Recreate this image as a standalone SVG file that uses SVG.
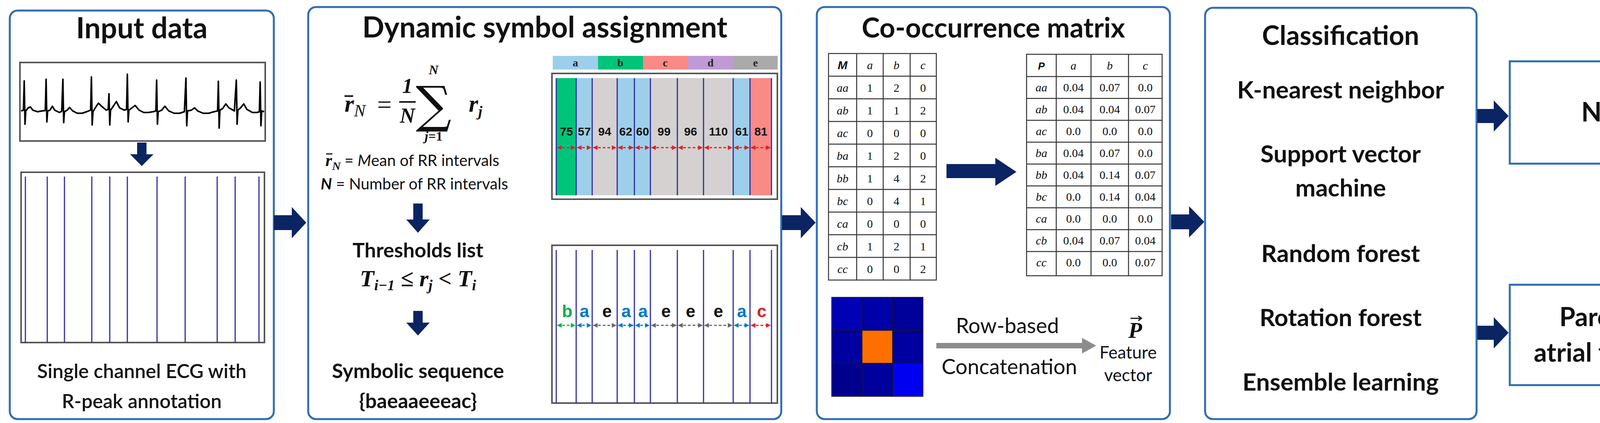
<svg xmlns="http://www.w3.org/2000/svg" width="4460" height="1083" viewBox="0 0 4460 1083">
<style>
.panel{fill:#fff;stroke:#2E6DB4;stroke-width:5}
.t{font-family:Lato,"Open Sans",sans-serif;font-weight:bold;fill:#111}
.s{font-family:Lato,"Open Sans",sans-serif;fill:#111}
.m{font-family:"Liberation Serif",serif;font-weight:bold;font-style:italic;fill:#111}
.cell{font-family:"Liberation Serif",serif;font-size:30px;fill:#111;text-anchor:middle}
.ci{font-style:italic}
.nav{fill:#0B2463}
.box{fill:#fff;stroke:#555;stroke-width:4}
.rl{stroke:#3030A0;stroke-width:3}
.tb{fill:none;stroke:#333;stroke-width:2.5}
.num{font-family:"Liberation Sans",sans-serif;font-weight:bold;font-size:30px;text-anchor:middle;fill:#111}
.lg{font-family:"Liberation Serif",serif;font-weight:bold;font-size:28px;text-anchor:middle;fill:#222}
.sq{font-family:"Liberation Sans",sans-serif;font-weight:bold;font-size:44px;text-anchor:middle}
</style>
<defs>
<marker id="ar" viewBox="0 0 10 10" refX="9" refY="5" markerWidth="4" markerHeight="4" orient="auto-start-reverse"><path d="M0,0L10,5L0,10z" fill="#E02020"/></marker>
<marker id="ag" viewBox="0 0 10 10" refX="9" refY="5" markerWidth="4" markerHeight="4" orient="auto-start-reverse"><path d="M0,0L10,5L0,10z" fill="#00B050"/></marker>
<marker id="ab" viewBox="0 0 10 10" refX="9" refY="5" markerWidth="4" markerHeight="4" orient="auto-start-reverse"><path d="M0,0L10,5L0,10z" fill="#0078C8"/></marker>
<marker id="ak" viewBox="0 0 10 10" refX="9" refY="5" markerWidth="4" markerHeight="4" orient="auto-start-reverse"><path d="M0,0L10,5L0,10z" fill="#666"/></marker>
</defs>

<g id="input-data">
<rect class="panel" x="25" y="27" width="676" height="1046" rx="20"/>
<text class="t" x="363" y="98" font-size="74" text-anchor="middle">Input data</text>
<rect class="box" x="51" y="160" width="628" height="201"/>
<path d="M54,284 L60,282 L62,207 L64,318 L66,284 L72,276 L78,274 L84,282 L96,286 L108,284 L116,283 L118,203 L120,312 L122,284 L128,282 L134,272 L140,282 L152,288 L158,285 L161,203 L163,314 L165,286 L172,282 L178,275 L186,284 L198,290 L210,290 L222,286 L232,282 L234,197 L236,320 L238,286 L244,276 L252,264 L260,272 L272,282 L277,280 L279,240 L281,320 L283,282 L290,272 L298,260 L306,276 L318,282 L324,280 L326,190 L328,312 L330,282 L338,276 L346,270 L356,282 L368,288 L380,288 L392,286 L399,284 L401,205 L403,318 L405,286 L414,282 L422,272 L432,284 L446,290 L460,290 L472,286 L476,200 L478,322 L480,284 L490,282 L498,276 L506,284 L520,290 L534,290 L548,286 L557,284 L559,208 L561,328 L563,282 L570,278 L578,266 L586,276 L600,284 L605,205 L607,318 L609,282 L616,276 L624,266 L632,280 L646,288 L658,288 L664,286 L666,210 L668,322 L670,284 L676,286" fill="none" stroke="#000" stroke-width="4" stroke-linejoin="round"/>
<rect class="box" x="54" y="441" width="623" height="436"/>
<g class="rl">
<line x1="65" y1="452" x2="65" y2="877"/><line x1="121" y1="452" x2="121" y2="877"/><line x1="165" y1="452" x2="165" y2="877"/><line x1="235" y1="452" x2="235" y2="877"/><line x1="281" y1="452" x2="281" y2="877"/><line x1="326" y1="452" x2="326" y2="877"/><line x1="402" y1="452" x2="402" y2="877"/><line x1="474" y1="452" x2="474" y2="877"/><line x1="556" y1="452" x2="556" y2="877"/><line x1="602" y1="452" x2="602" y2="877"/><line x1="663" y1="452" x2="663" y2="877"/>
</g>
<text class="s" x="363" y="968" font-size="50" font-weight="600" text-anchor="middle">Single channel ECG with</text>
<text class="s" x="363" y="1045" font-size="50" font-weight="600" text-anchor="middle">R-peak annotation</text>
</g>

<g id="symbol-assignment">
<rect class="panel" x="789" y="18" width="1211" height="1055" rx="20"/>
<text class="t" x="1395" y="96" font-size="74" text-anchor="middle">Dynamic symbol assignment</text>
<text class="m" x="882" y="286" font-size="62">r<tspan font-size="44" dy="12" font-weight="normal">N</tspan></text>
<line x1="882" y1="246" x2="904" y2="246" stroke="#111" stroke-width="4"/>
<text x="984" y="290" font-family="Liberation Serif,serif" font-size="66" text-anchor="middle" fill="#111">=</text>
<text class="m" x="1043" y="238" font-size="54" text-anchor="middle" font-style="normal">1</text>
<line x1="1022" y1="261" x2="1064" y2="261" stroke="#111" stroke-width="4"/>
<text class="m" x="1043" y="314" font-size="54" text-anchor="middle">N</text>
<text x="1110" y="312" font-family="DejaVu Serif,serif" font-size="128" text-anchor="middle" fill="#111">∑</text>
<text class="m" x="1110" y="190" font-size="34" text-anchor="middle">N</text>
<text class="m" x="1110" y="360" font-size="34" text-anchor="middle">j<tspan font-style="normal">=1</tspan></text>
<text class="m" x="1200" y="286" font-size="62">r<tspan font-size="38" dy="12">j</tspan></text>
<text x="833" y="425" font-size="40" class="s"><tspan class="m" font-size="44">r</tspan><tspan class="m" font-size="30" dy="10" font-weight="normal">N</tspan><tspan dy="-10"> = </tspan><tspan font-style="italic">M</tspan>ean of RR intervals</text>
<line x1="835" y1="394" x2="851" y2="394" stroke="#111" stroke-width="3"/>
<text x="821" y="485" font-size="40" class="s"><tspan font-style="italic" font-weight="bold">N</tspan> = Number of RR intervals</text>
<polygon class="nav" points="1058,521 1082,521 1082,562 1100,562 1070,596 1040,562 1058,562"/>
<text class="t" x="1070" y="659" font-size="52" text-anchor="middle">Thresholds list</text>
<text class="m" x="1070" y="733" font-size="60" text-anchor="middle">T<tspan font-size="38" dy="10">i−1</tspan><tspan dy="-10"> ≤ r</tspan><tspan font-size="38" dy="10">j</tspan><tspan dy="-10"> &lt; T</tspan><tspan font-size="38" dy="10">i</tspan></text>
<polygon class="nav" points="1058,796 1082,796 1082,826 1100,826 1070,859 1040,826 1058,826"/>
<text class="t" x="1070" y="968" font-size="52" text-anchor="middle">Symbolic sequence</text>
<text class="t" x="1070" y="1045" font-size="52" text-anchor="middle">{baeaaeeeac}</text>

<rect x="1415" y="143" width="116" height="35" fill="#9DCFEA"/><rect x="1531" y="143" width="115" height="35" fill="#00C47A"/><rect x="1646" y="143" width="115" height="35" fill="#F98A86"/><rect x="1761" y="143" width="116" height="35" fill="#C09AD4"/><rect x="1877" y="143" width="114" height="35" fill="#AAAAAA"/>
<text class="lg" x="1473" y="170">a</text><text class="lg" x="1588" y="170">b</text><text class="lg" x="1703" y="170">c</text><text class="lg" x="1819" y="170">d</text><text class="lg" x="1934" y="170">e</text>
<rect class="box" x="1413" y="188" width="577" height="322"/>
<rect x="1424" y="200" width="51" height="300" fill="#00C47A"/><rect x="1475" y="200" width="41" height="300" fill="#9DCFEA"/><rect x="1516" y="200" width="64" height="300" fill="#D4D1D0"/><rect x="1580" y="200" width="85" height="300" fill="#9DCFEA"/><rect x="1665" y="200" width="212" height="300" fill="#D4D1D0"/><rect x="1877" y="200" width="43" height="300" fill="#9DCFEA"/><rect x="1920" y="200" width="55" height="300" fill="#F98A86"/>
<g class="rl">
<line x1="1424" y1="200" x2="1424" y2="500"/><line x1="1475" y1="200" x2="1475" y2="500"/><line x1="1516" y1="200" x2="1516" y2="500"/><line x1="1580" y1="200" x2="1580" y2="500"/><line x1="1624" y1="200" x2="1624" y2="500"/><line x1="1665" y1="200" x2="1665" y2="500"/><line x1="1734" y1="200" x2="1734" y2="500"/><line x1="1801" y1="200" x2="1801" y2="500"/><line x1="1877" y1="200" x2="1877" y2="500"/><line x1="1920" y1="200" x2="1920" y2="500"/><line x1="1975" y1="200" x2="1975" y2="500"/>
</g>
<g>
<text class="num" x="1450" y="347">75</text><text class="num" x="1496" y="347">57</text><text class="num" x="1548" y="347">94</text><text class="num" x="1602" y="347" fill="#0B3A5A">62</text><text class="num" x="1645" y="347">60</text><text class="num" x="1700" y="347">99</text><text class="num" x="1768" y="347">96</text><text class="num" x="1839" y="347">110</text><text class="num" x="1899" y="347">61</text><text class="num" x="1948" y="347">81</text>
</g>
<g stroke="#E02020" stroke-width="3" stroke-dasharray="7,5" marker-start="url(#ar)" marker-end="url(#ar)">
<line x1="1427" y1="378" x2="1472" y2="378"/><line x1="1478" y1="378" x2="1513" y2="378"/><line x1="1519" y1="378" x2="1577" y2="378"/><line x1="1583" y1="378" x2="1621" y2="378"/><line x1="1627" y1="378" x2="1662" y2="378"/><line x1="1668" y1="378" x2="1731" y2="378"/><line x1="1737" y1="378" x2="1798" y2="378"/><line x1="1804" y1="378" x2="1874" y2="378"/><line x1="1880" y1="378" x2="1917" y2="378"/><line x1="1923" y1="378" x2="1972" y2="378"/>
</g>
<rect class="box" x="1413" y="628" width="577" height="404"/>
<g class="rl">
<line x1="1424" y1="640" x2="1424" y2="1032"/><line x1="1475" y1="640" x2="1475" y2="1032"/><line x1="1516" y1="640" x2="1516" y2="1032"/><line x1="1580" y1="640" x2="1580" y2="1032"/><line x1="1624" y1="640" x2="1624" y2="1032"/><line x1="1665" y1="640" x2="1665" y2="1032"/><line x1="1734" y1="640" x2="1734" y2="1032"/><line x1="1801" y1="640" x2="1801" y2="1032"/><line x1="1877" y1="640" x2="1877" y2="1032"/><line x1="1920" y1="640" x2="1920" y2="1032"/><line x1="1975" y1="640" x2="1975" y2="1032"/>
</g>
<text class="sq" x="1452" y="812" fill="#00B050">b</text><text class="sq" x="1496" y="812" fill="#0078C8">a</text><text class="sq" x="1554" y="812" fill="#111">e</text><text class="sq" x="1603" y="812" fill="#0078C8">a</text><text class="sq" x="1646" y="812" fill="#0078C8">a</text><text class="sq" x="1705" y="812" fill="#111">e</text><text class="sq" x="1768" y="812" fill="#111">e</text><text class="sq" x="1839" y="812" fill="#111">e</text><text class="sq" x="1899" y="812" fill="#0078C8">a</text><text class="sq" x="1950" y="812" fill="#E02020">c</text>
<g stroke-width="3" stroke-dasharray="7,5">
<line x1="1427" y1="833" x2="1472" y2="833" stroke="#00B050" marker-start="url(#ag)" marker-end="url(#ag)"/>
<line x1="1478" y1="833" x2="1513" y2="833" stroke="#0078C8" marker-start="url(#ab)" marker-end="url(#ab)"/>
<line x1="1519" y1="833" x2="1577" y2="833" stroke="#666" marker-start="url(#ak)" marker-end="url(#ak)"/>
<line x1="1583" y1="833" x2="1621" y2="833" stroke="#0078C8" marker-start="url(#ab)" marker-end="url(#ab)"/>
<line x1="1627" y1="833" x2="1662" y2="833" stroke="#0078C8" marker-start="url(#ab)" marker-end="url(#ab)"/>
<line x1="1668" y1="833" x2="1731" y2="833" stroke="#666" marker-start="url(#ak)" marker-end="url(#ak)"/>
<line x1="1737" y1="833" x2="1798" y2="833" stroke="#666" marker-start="url(#ak)" marker-end="url(#ak)"/>
<line x1="1804" y1="833" x2="1874" y2="833" stroke="#666" marker-start="url(#ak)" marker-end="url(#ak)"/>
<line x1="1880" y1="833" x2="1917" y2="833" stroke="#0078C8" marker-start="url(#ab)" marker-end="url(#ab)"/>
<line x1="1923" y1="833" x2="1972" y2="833" stroke="#E02020" marker-start="url(#ar)" marker-end="url(#ar)"/>
</g>
</g>

<g id="co-occurrence">
<rect class="panel" x="2091" y="18" width="904" height="1055" rx="20"/>
<text class="t" x="2543" y="96" font-size="70" text-anchor="middle">Co-occurrence matrix</text>
<g class="tb">
<rect x="2121" y="137" width="276" height="580"/>
<line x1="2193" y1="137" x2="2193" y2="717"/><line x1="2261" y1="137" x2="2261" y2="717"/><line x1="2330" y1="137" x2="2330" y2="717"/>
<line x1="2121" y1="195" x2="2397" y2="195"/><line x1="2121" y1="253" x2="2397" y2="253"/><line x1="2121" y1="311" x2="2397" y2="311"/><line x1="2121" y1="369" x2="2397" y2="369"/><line x1="2121" y1="427" x2="2397" y2="427"/><line x1="2121" y1="485" x2="2397" y2="485"/><line x1="2121" y1="543" x2="2397" y2="543"/><line x1="2121" y1="601" x2="2397" y2="601"/><line x1="2121" y1="659" x2="2397" y2="659"/>
</g>
<g class="cell">
<text x="2157" y="177" font-family="Liberation Sans,sans-serif" font-weight="bold" font-style="italic">M</text><text class="ci" x="2227" y="177">a</text><text class="ci" x="2295" y="177">b</text><text class="ci" x="2363" y="177">c</text>
<text class="ci" x="2157" y="235">aa</text><text x="2227" y="235">1</text><text x="2295" y="235">2</text><text x="2363" y="235">0</text>
<text class="ci" x="2157" y="293">ab</text><text x="2227" y="293">1</text><text x="2295" y="293">1</text><text x="2363" y="293">2</text>
<text class="ci" x="2157" y="351">ac</text><text x="2227" y="351">0</text><text x="2295" y="351">0</text><text x="2363" y="351">0</text>
<text class="ci" x="2157" y="409">ba</text><text x="2227" y="409">1</text><text x="2295" y="409">2</text><text x="2363" y="409">0</text>
<text class="ci" x="2157" y="467">bb</text><text x="2227" y="467">1</text><text x="2295" y="467">4</text><text x="2363" y="467">2</text>
<text class="ci" x="2157" y="525">bc</text><text x="2227" y="525">0</text><text x="2295" y="525">4</text><text x="2363" y="525">1</text>
<text class="ci" x="2157" y="583">ca</text><text x="2227" y="583">0</text><text x="2295" y="583">0</text><text x="2363" y="583">0</text>
<text class="ci" x="2157" y="641">cb</text><text x="2227" y="641">1</text><text x="2295" y="641">2</text><text x="2363" y="641">1</text>
<text class="ci" x="2157" y="699">cc</text><text x="2227" y="699">0</text><text x="2295" y="699">0</text><text x="2363" y="699">2</text>
</g>
<polygon class="nav" points="2423,420 2548,420 2548,404 2602,440 2548,476 2548,456 2423,456"/>
<g class="tb">
<rect x="2628" y="139" width="347" height="567"/>
<line x1="2704" y1="139" x2="2704" y2="706"/><line x1="2793" y1="139" x2="2793" y2="706"/><line x1="2889" y1="139" x2="2889" y2="706"/>
<line x1="2628" y1="196" x2="2975" y2="196"/><line x1="2628" y1="252" x2="2975" y2="252"/><line x1="2628" y1="308" x2="2975" y2="308"/><line x1="2628" y1="364" x2="2975" y2="364"/><line x1="2628" y1="420" x2="2975" y2="420"/><line x1="2628" y1="476" x2="2975" y2="476"/><line x1="2628" y1="532" x2="2975" y2="532"/><line x1="2628" y1="588" x2="2975" y2="588"/><line x1="2628" y1="644" x2="2975" y2="644"/>
</g>
<g class="cell">
<text x="2666" y="178" font-family="Liberation Sans,sans-serif" font-weight="bold" font-style="italic" font-size="26">P</text><text class="ci" x="2748" y="178">a</text><text class="ci" x="2841" y="178">b</text><text class="ci" x="2932" y="178">c</text>
<text class="ci" x="2666" y="234">aa</text><text x="2748" y="234">0.04</text><text x="2841" y="234">0.07</text><text x="2932" y="234">0.0</text>
<text class="ci" x="2666" y="290">ab</text><text x="2748" y="290">0.04</text><text x="2841" y="290">0.04</text><text x="2932" y="290">0.07</text>
<text class="ci" x="2666" y="346">ac</text><text x="2748" y="346">0.0</text><text x="2841" y="346">0.0</text><text x="2932" y="346">0.0</text>
<text class="ci" x="2666" y="402">ba</text><text x="2748" y="402">0.04</text><text x="2841" y="402">0.07</text><text x="2932" y="402">0.0</text>
<text class="ci" x="2666" y="458">bb</text><text x="2748" y="458">0.04</text><text x="2841" y="458">0.14</text><text x="2932" y="458">0.07</text>
<text class="ci" x="2666" y="514">bc</text><text x="2748" y="514">0.0</text><text x="2841" y="514">0.14</text><text x="2932" y="514">0.04</text>
<text class="ci" x="2666" y="570">ca</text><text x="2748" y="570">0.0</text><text x="2841" y="570">0.0</text><text x="2932" y="570">0.0</text>
<text class="ci" x="2666" y="626">cb</text><text x="2748" y="626">0.04</text><text x="2841" y="626">0.07</text><text x="2932" y="626">0.04</text>
<text class="ci" x="2666" y="682">cc</text><text x="2748" y="682">0.0</text><text x="2841" y="682">0.0</text><text x="2932" y="682">0.07</text>
</g>
<g stroke="#1a1a1a" stroke-width="1.5">
<rect x="2129" y="761" width="78" height="85" fill="#0000B4"/><rect x="2207" y="761" width="78" height="85" fill="#0000A8"/><rect x="2285" y="761" width="78" height="85" fill="#00009A"/>
<rect x="2129" y="846" width="78" height="84" fill="#0000A0"/><rect x="2207" y="846" width="78" height="84" fill="#FF6F00"/><rect x="2285" y="846" width="78" height="84" fill="#0000A0"/>
<rect x="2129" y="930" width="78" height="85" fill="#00008C"/><rect x="2207" y="930" width="78" height="85" fill="#00009C"/><rect x="2285" y="930" width="78" height="85" fill="#0000F0"/>
</g>
<polygon points="2397,878 2770,878 2770,865 2806,885 2770,905 2770,892 2397,892" fill="#8C8C8C"/>
<text class="s" x="2579" y="853" font-size="54" text-anchor="middle">Row-based</text>
<text class="s" x="2584" y="958" font-size="54" text-anchor="middle">Concatenation</text>
<text class="m" x="2906" y="865" font-size="58" font-weight="normal" text-anchor="middle">P</text>
<path d="M2894,815 L2922,815 M2914,809 L2922,815 L2914,821" fill="none" stroke="#111" stroke-width="3"/>
<text class="s" x="2888" y="918" font-size="44" text-anchor="middle">Feature</text>
<text class="s" x="2888" y="976" font-size="44" text-anchor="middle">vector</text>
</g>

<g id="classification">
<rect class="panel" x="3085" y="20" width="695" height="1053" rx="20"/>
<text class="t" x="3432" y="115" font-size="68" text-anchor="middle">Classification</text>
<g class="t" font-size="62" text-anchor="middle">
<text x="3432" y="252">K-nearest neighbor</text>
<text x="3432" y="416">Support vector</text>
<text x="3432" y="503">machine</text>
<text x="3432" y="671">Random forest</text>
<text x="3432" y="835">Rotation forest</text>
<text x="3432" y="1000">Ensemble learning</text>
</g>
</g>

<g id="normal">
<rect x="3865" y="157" width="591" height="262" fill="#fff" stroke="#2E6DB4" stroke-width="5"/>
<text class="t" x="4160" y="311" font-size="68" text-anchor="middle">Normal</text>
</g>

<g id="paf">
<rect x="3865" y="729" width="591" height="257" fill="#fff" stroke="#2E6DB4" stroke-width="5"/>
<text class="t" x="4160" y="835" font-size="66" text-anchor="middle">Paroxysmal</text>
<text class="t" x="4160" y="926" font-size="66" text-anchor="middle">atrial fibrillation</text>
</g>

<g id="connectors">
<polygon class="nav" points="701,551 747,551 747,530 784,570 747,610 747,589 701,589"/>
<polygon class="nav" points="2002,551 2050,551 2050,530 2088,570 2050,610 2050,589 2002,589"/>
<polygon class="nav" points="2998,549 3044,549 3044,528 3083,568 3044,608 3044,587 2998,587"/>
<polygon class="nav" points="3782,279 3824,279 3824,257 3862,297 3824,337 3824,315 3782,315"/>
<polygon class="nav" points="3782,834 3824,834 3824,812 3862,852 3824,892 3824,870 3782,870"/>
<polygon class="nav" points="351,365 375,365 375,395 393,395 363,425 333,395 351,395"/>
</g>
</svg>
